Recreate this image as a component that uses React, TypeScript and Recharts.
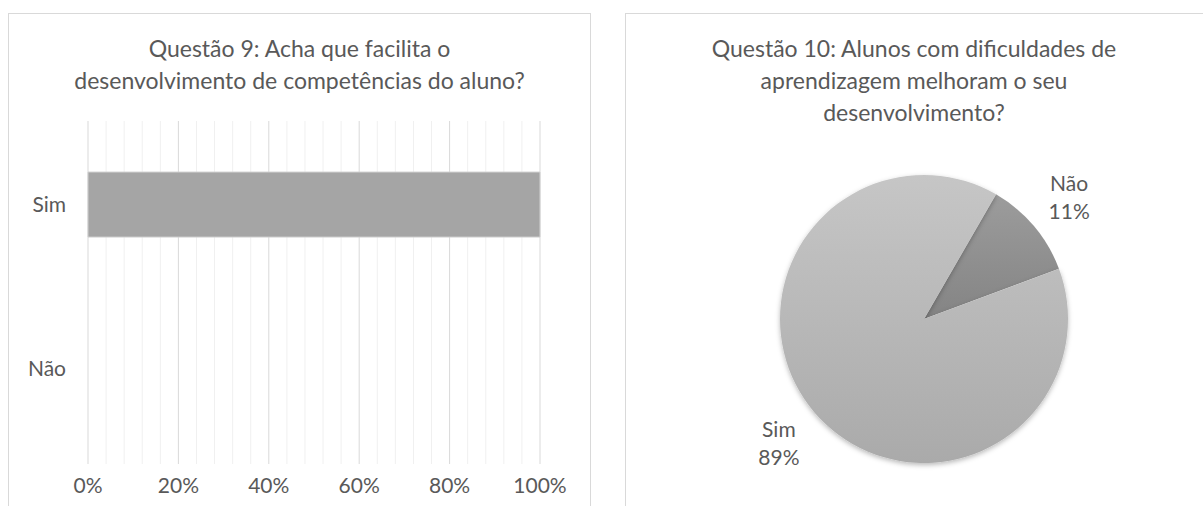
import React from 'react';
import {
  BarChart,
  Bar,
  XAxis,
  YAxis,
  CartesianGrid,
  PieChart,
  Pie,
  Cell
} from 'recharts';

const barCategories = ['Sim', 'Não'];
const barValues = [100, 0];
const majorTicks = [0, 20, 40, 60, 80, 100];
const minorTicks = [4, 8, 12, 16, 24, 28, 32, 36, 44, 48, 52, 56, 64, 68, 72, 76, 84, 88, 92, 96];

const pieLabels = ['Não', 'Sim'];
const pieValues = [11, 89];

const barData = barCategories.map((name, i) => ({ name, value: barValues[i] }));
const pieData = pieLabels.map((name, i) => ({ name, value: pieValues[i] }));

const FONT = 'Lato, "Open Sans", sans-serif';
const TEXT = '#595959';
const FS = 21;

const panelStyle: React.CSSProperties = {
  position: 'absolute',
  top: 13,
  height: 520,
  border: '1px solid #d9d9d9',
  background: '#fff',
  boxSizing: 'border-box'
};

const titleStyle: React.CSSProperties = {
  position: 'absolute',
  left: 0,
  right: 0,
  top: 18,
  textAlign: 'center',
  fontFamily: FONT,
  fontSize: 23,
  lineHeight: '32px',
  color: TEXT
};

const RAD = Math.PI / 180;

// map tick values to pixel x through the axis scale
const gridFor = (ticks: number[]) => (props: any) => {
  const { xAxis, offset } = props;
  if (xAxis && typeof xAxis.scale === 'function') {
    return ticks.map((t) => xAxis.scale(t));
  }
  return ticks.map((t) => offset.left + (t / 100) * offset.width);
};

const renderPieLabel = (props: any) => {
  const { cx, cy, midAngle, outerRadius, index } = props;
  const r = outerRadius + 46;
  const x = cx + r * Math.cos(-midAngle * RAD);
  const y = cy + r * Math.sin(-midAngle * RAD);
  return (
    <text x={x} y={y} textAnchor="middle" fill={TEXT} fontFamily={FONT} fontSize={FS}>
      <tspan x={x} dy={-5}>{pieLabels[index]}</tspan>
      <tspan x={x} dy={28}>{pieValues[index]}%</tspan>
    </text>
  );
};

export default function App() {
  return (
    <div style={{ position: 'absolute', left: 0, top: 0, width: 1203, height: 506, overflow: 'hidden', background: '#fff' }}>
      <div style={{ ...panelStyle, left: 8, width: 583 }}>
        <div style={titleStyle}>
          Questão 9: Acha que facilita o<br />desenvolvimento de competências do aluno?
        </div>
        <div style={{ position: 'absolute', left: 0, top: 0 }}>
          <BarChart
            width={581}
            height={492}
            data={barData}
            layout="vertical"
            margin={{ top: 107, right: 50, left: 0, bottom: 0 }}
            barCategoryGap="30%"
          >
            <CartesianGrid
              horizontal={false}
              stroke="#f0f0f0"
              verticalCoordinatesGenerator={gridFor(minorTicks)}
            />
            <CartesianGrid
              horizontal={false}
              stroke="#d9d9d9"
              verticalCoordinatesGenerator={gridFor(majorTicks)}
            />
            <XAxis
              type="number"
              domain={[0, 100]}
              ticks={majorTicks}
              tickFormatter={(v: number) => `${v}%`}
              axisLine={false}
              tickLine={false}
              tickSize={0}
              tickMargin={14}
              height={42}
              tick={{ fill: TEXT, fontSize: FS, fontFamily: FONT }}
            />
            <YAxis
              type="category"
              dataKey="name"
              width={79}
              padding={{ top: 2, bottom: 14 }}
              axisLine={false}
              tickLine={false}
              tickSize={0}
              tickMargin={22}
              tick={{ fill: TEXT, fontSize: FS, fontFamily: FONT }}
            />
            <Bar dataKey="value" fill="#a5a5a5" stroke="#d0d0d0" strokeWidth={1} isAnimationActive={false} />
          </BarChart>
        </div>
      </div>
      <div style={{ ...panelStyle, left: 625, width: 600 }}>
        <div style={{ ...titleStyle, right: 22 }}>
          Questão 10: Alunos com dificuldades de<br />aprendizagem melhoram o seu<br />desenvolvimento?
        </div>
        <div style={{ position: 'absolute', left: 0, top: 0 }}>
          <PieChart width={598} height={492} margin={{ top: 0, right: 0, left: 0, bottom: 0 }}>
            <defs>
              <linearGradient id="gSim" x1="0" y1="0" x2="0" y2="1">
                <stop offset="0%" stopColor="#c6c6c6" />
                <stop offset="100%" stopColor="#aaaaaa" />
              </linearGradient>
              <linearGradient id="gNao" x1="0" y1="0" x2="0" y2="1">
                <stop offset="0%" stopColor="#9c9c9c" />
                <stop offset="100%" stopColor="#848484" />
              </linearGradient>
              <filter id="pieShadow" x="-10%" y="-10%" width="120%" height="125%">
                <feDropShadow dx="0" dy="2" stdDeviation="2.5" floodColor="#000" floodOpacity="0.28" />
              </filter>
            </defs>
            <Pie
              data={pieData}
              dataKey="value"
              nameKey="name"
              cx={298}
              cy={305}
              outerRadius={144}
              startAngle={60}
              endAngle={-300}
              stroke="none"
              label={renderPieLabel}
              labelLine={false}
              isAnimationActive={false}
            >
              <Cell fill="url(#gNao)" />
              <Cell fill="url(#gSim)" filter="url(#pieShadow)" />
            </Pie>
          </PieChart>
        </div>
      </div>
    </div>
  );
}
